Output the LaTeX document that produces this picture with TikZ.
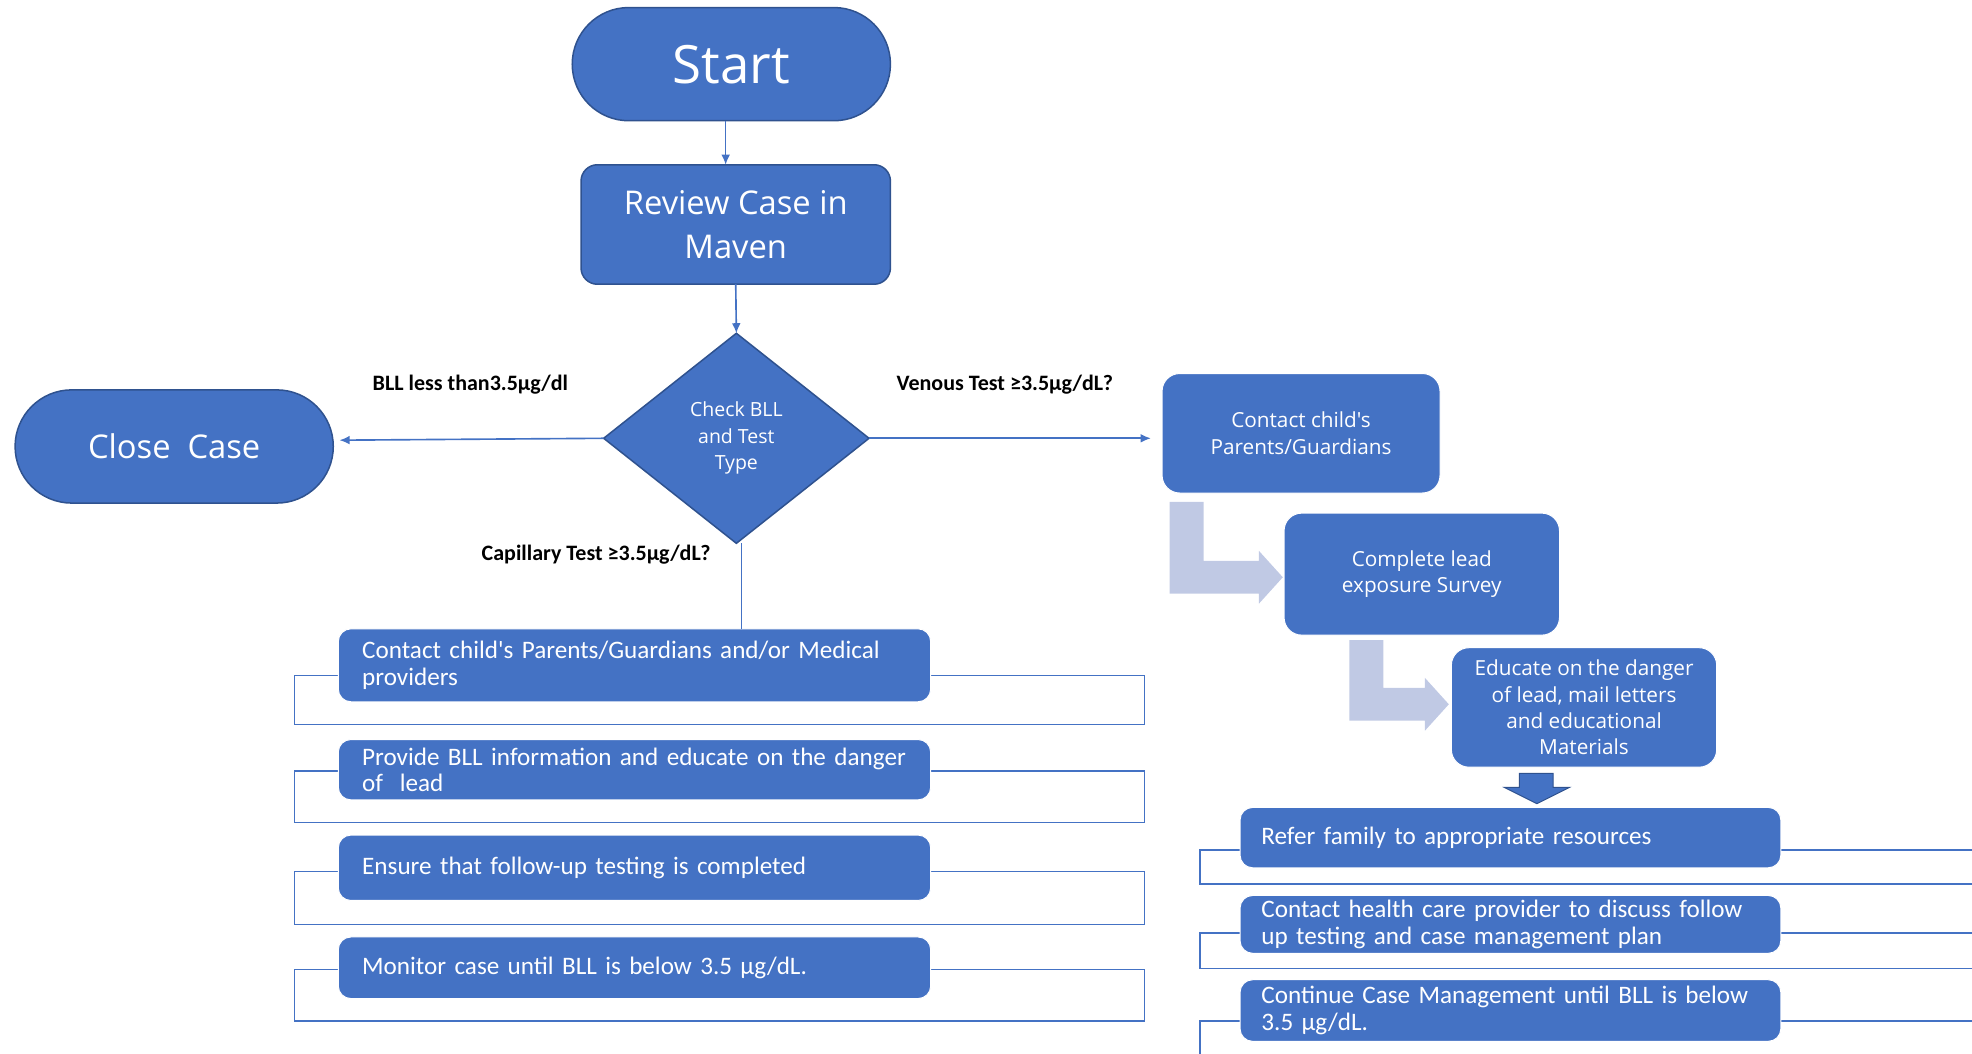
\documentclass[tikz,border=0pt]{standalone}
\usepackage{fontspec}
\setmainfont{Carlito}[Ligatures=TeXOff]
\newfontfamily\osans{Open Sans}
\usetikzlibrary{shapes.geometric,arrows.meta,calc}
\definecolor{boxblue}{HTML}{4472C4}
\definecolor{edgeblue}{HTML}{2F528F}
\definecolor{lightarr}{RGB}{192,201,228}
\begin{document}
\begin{tikzpicture}[x=1pt,y=-1pt,
  every node/.style={inner sep=0pt,outer sep=0pt},
  term/.style={draw=edgeblue,line width=1.2pt,fill=boxblue,text=white,rounded corners=45pt,
    minimum width=253pt,minimum height=90pt,font=\osans\fontsize{26}{32}\selectfont},
  procbox/.style={draw=edgeblue,line width=1.2pt,fill=boxblue,text=white,rounded corners=13pt,align=center},
  stepbox/.style={draw=white,line width=0.8pt,fill=boxblue,text=white,rounded corners=14pt,align=center,
    font=\osans\fontsize{16.5}{21}\selectfont},
  listbox/.style={draw=white,line width=0.8pt,fill=boxblue,text=white,rounded corners=10pt,align=left,
    font=\fontsize{20}{21}\selectfont},
  bracket/.style={draw=boxblue,line width=1.2pt},
  conn/.style={draw=boxblue,line width=1.3pt},
  arr/.style={conn,-{Latex[length=8pt,width=7pt]}},
  lbl/.style={font=\bfseries\fontsize{17.5}{20}\selectfont,text=black},
  blockarr/.style={fill=lightarr,draw=none}
]
\useasboundingbox (0,0) rectangle (1568,838);
\clip (0,0) rectangle (1568,838);

% terminals and process boxes
\node[term,font=\osans\fontsize{42}{46}\selectfont] (start) at (581.5,51) {Start};
\node[procbox,minimum width=246pt,minimum height=95pt,font=\osans\fontsize{26}{35}\selectfont] (review) at (585,178.5) {Review Case in\\Maven};
\node[diamond,draw=edgeblue,line width=1.2pt,fill=boxblue,text=white,align=center,
  minimum width=211pt,minimum height=167pt,font=\osans\fontsize{15.5}{21}\selectfont] (chk) at (585.5,348.5) {Check BLL\\and Test\\Type};
\node[term] (close) at (138.5,355) {Close~ Case};

% right-hand steps
\node[stepbox,minimum width=221pt,minimum height=95pt] (contact) at (1034.5,344.5) {Contact child's\\Parents/Guardians};
\node[stepbox,minimum width=219pt,minimum height=97pt] (complete) at (1130.5,456.5) {Complete lead\\exposure Survey};
\node[stepbox,minimum width=211pt,minimum height=95pt] (educate) at (1259.5,562.5) {Educate on the danger\\of lead, mail letters\\and educational\\Materials};

% light bent arrows
\path[blockarr] (930,399) -- (957,399) -- (957,446) -- (1001,446) -- (1001,438) -- (1020,459)
  -- (1001,480) -- (1001,472) -- (930,472) -- cycle;
\path[blockarr] (1073,509) -- (1100,509) -- (1100,547) -- (1133,547) -- (1133,539) -- (1152,560)
  -- (1133,581) -- (1133,573) -- (1073,573) -- cycle;

% down block arrow
\draw[fill=boxblue,draw=edgeblue,line width=0.8pt] (1208,615) -- (1235,615) -- (1235,626) -- (1248,626)
  -- (1222,639) -- (1196,626) -- (1208,626) -- cycle;

% left list brackets
\draw[bracket] (234,537) rectangle (910,576);
\draw[bracket] (234,613) rectangle (910,654);
\draw[bracket] (234,693) rectangle (910,735);
\draw[bracket] (234,771) rectangle (910,812);
% right list brackets
\draw[bracket] (954,676) rectangle (1590,703);
\draw[bracket] (954,742) rectangle (1590,770);
\draw[bracket] (954,812) rectangle (1590,870);

% left list
\node[listbox,minimum width=471pt,minimum height=58pt,text width=433pt] (L1) at (504.5,529)
  {Contact child's Parents/Guardians and/or Medical\\providers};
\node[listbox,minimum width=471pt,minimum height=48pt,text width=433pt] (L2) at (504.5,612)
  {Provide BLL information and educate on the danger\\of~ lead};
\node[listbox,minimum width=471pt,minimum height=52pt,text width=433pt] (L3) at (504.5,690)
  {Ensure that follow-up testing is completed};
\node[listbox,minimum width=471pt,minimum height=49pt,text width=433pt] (L4) at (504.5,769.5)
  {Monitor case until BLL is below 3.5 µg/dL.};

% right list
\node[listbox,minimum width=430pt,minimum height=48pt,text width=396pt] (R1) at (1201,666)
  {Refer family to appropriate resources};
\node[listbox,minimum width=430pt,minimum height=46pt,text width=396pt] (R2) at (1201,735)
  {Contact health care provider to discuss follow\\up testing and case management plan};
\node[listbox,minimum width=430pt,minimum height=49pt,text width=396pt] (R3) at (1201,803.5)
  {Continue Case Management until BLL is below\\3.5 µg/dL.};

% connectors
\draw[arr] ([xshift=-4.5pt]start.south) -- ([xshift=-4.5pt]start.south |- review.north);
\draw[arr] (review.south) -- (chk.north);
\draw[arr] (chk.west) -- ($(close.east)+(5,-5)$);
\draw[arr] (chk.east) -- ($(chk.east -| contact.west)+(-9,0)$);
\draw[conn] ([xshift=4pt]chk.south) -- ([xshift=4pt]chk.south |- L1.north);

% labels
\node[lbl] (lblless) at (374,306) {BLL less than3.5µg/dl};
\node[lbl] (lblven) at (799,306) {Venous Test ≥3.5µg/dL?};
\node[lbl] (lblcap) at (474,441) {Capillary Test ≥3.5µg/dL?};
\end{tikzpicture}
\end{document}
